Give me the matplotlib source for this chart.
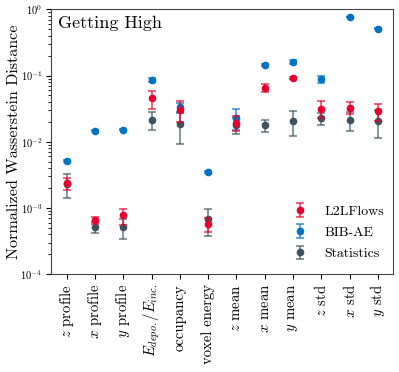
import matplotlib
matplotlib.use("Agg")
import matplotlib.pyplot as plt
from matplotlib.colors import to_rgba

plt.rcParams['font.family'] = 'cmr10'
plt.rcParams['mathtext.fontset'] = 'cm'
plt.rcParams['axes.formatter.use_mathtext'] = True

LABELS = [r'$z$ profile', r'$x$ profile', r'$y$ profile', r'$E_{depo.}/E_{inc.}$',
          'occupancy', 'voxel energy', r'$z$ mean', r'$x$ mean', r'$y$ mean',
          r'$z$ std', r'$x$ std', r'$y$ std']

# L2LFlows
L2L_VALS = [2.35e-3, 6.5e-4, 7.7e-4, 4.5e-2, 3.06e-2, 5.7e-4, 1.95e-2, 6.5e-2, 9.1e-2, 3.17e-2, 3.28e-2, 2.89e-2]
L2L_ERRS = [0.5e-3, 0.75e-4, 2.1e-4, 1.4e-2, 1.05e-2, 1.3e-4, 0.5e-2, 0.9e-2, 0.3e-2, 0.9e-2, 0.7e-2, 0.85e-2]
# BIB-AE
BIB_VALS = [5.1e-3, 1.46e-2, 1.53e-2, 8.5e-2, 3.3e-2, 3.5e-3, 2.3e-2, 0.145, 0.16, 8.8e-2, 0.765, 0.51]
BIB_ERRS = [0.2e-3, 0.3e-3, 0.3e-3, 0.6e-2, 0.6e-2, 0.15e-3, 0.8e-2, 0.5e-2, 1.1e-2, 1.2e-2, 0.01, 0.01]
# Statistics
STAT_VALS = [2.3e-3, 5.2e-4, 5.1e-4, 2.16e-2, 1.88e-2, 6.7e-4, 1.8e-2, 1.77e-2, 2.06e-2, 2.29e-2, 2.16e-2, 2.06e-2]
STAT_ERRS = [0.9e-3, 1.0e-4, 1.7e-4, 0.67e-2, 0.97e-2, 2.9e-4, 0.5e-2, 0.36e-2, 0.85e-2, 0.47e-2, 0.7e-2, 0.92e-2]

RED = '#e6002e'
BLUE = '#0072c3'
GRAY = '#3d5361'

fig = plt.figure(figsize=(3.99, 3.72), dpi=100)
ax = fig.add_axes([0.127, 0.263, 0.859, 0.712])

xs = list(range(len(LABELS)))
series = [("L2LFlows", L2L_VALS, L2L_ERRS, RED, 4),
          ("BIB-AE", BIB_VALS, BIB_ERRS, BLUE, 3),
          ("Statistics", STAT_VALS, STAT_ERRS, GRAY, 2)]
for name, vals, errs, col, z in series:
    ax.errorbar(xs, vals, yerr=errs, fmt='o', color=col, ms=4.5,
                ecolor=to_rgba(col, 0.6), elinewidth=1.5, capsize=3,
                capthick=1.5, label=name, zorder=z)

ax.set_yscale('log')
ax.set_ylim(1e-4, 1)
ax.set_xlim(-0.57, 11.55)
ax.set_xticks(xs)
ax.set_xticklabels(LABELS, rotation=90, fontsize=10.6)
ax.tick_params(axis='y', labelsize=7.5, pad=2.5)
ax.set_ylabel('Normalized Wasserstein Distance', fontsize=11.6)
ax.yaxis.set_label_coords(-0.088, 0.5)
for s in ax.spines.values():
    s.set_color('#444444')
ax.text(0.02, 0.975, 'Getting High', transform=ax.transAxes, fontsize=13,
        va='top', ha='left')
ax.legend(loc='lower right', frameon=False, fontsize=10, handlelength=1.0,
          handletextpad=1.3, labelspacing=0.6, bbox_to_anchor=(1.01, 0.005))

fig.savefig('out.png', dpi=100)
